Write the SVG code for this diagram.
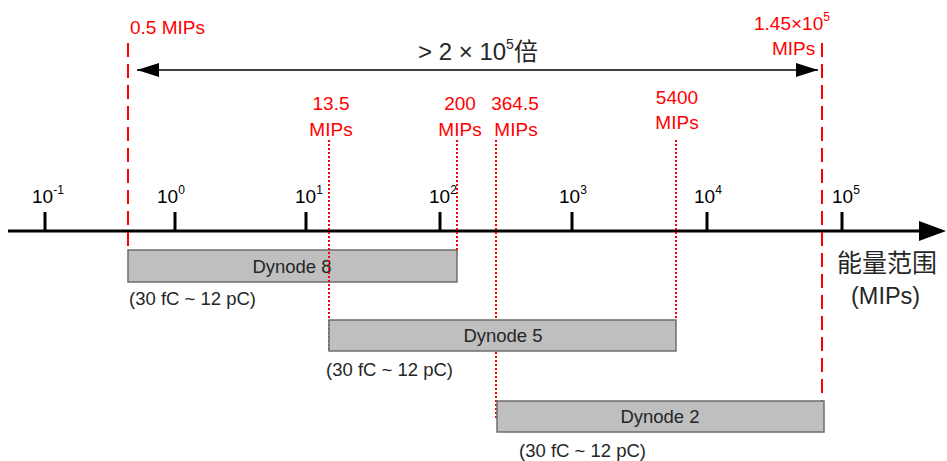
<svg xmlns="http://www.w3.org/2000/svg" width="947" height="461" viewBox="0 0 947 461">
<defs>
<style>
.t{font-family:"Liberation Sans","Noto Sans CJK SC",sans-serif;}
.red{fill:#ff0000;font-size:19px;}
.tick{fill:#000;font-size:19px;}
.sup{font-size:12px;}
.lbl{fill:#262626;font-size:18.5px;}
.box{fill:#bfbfbf;stroke:#6e6e6e;stroke-width:1.5;}
.dash{stroke:#ff0000;stroke-width:2;stroke-dasharray:14 7;fill:none;}
.dot{stroke:#ff0000;stroke-width:2;stroke-dasharray:2 2;fill:none;}
</style>
<marker id="ah" viewBox="0 0 22 14" refX="22" refY="7" markerWidth="22" markerHeight="14" markerUnits="userSpaceOnUse" orient="auto-start-reverse">
<path d="M0,0 L22,7 L0,14 Z" fill="#000"/>
</marker>
</defs>
<rect width="947" height="461" fill="#fff"/>

<g id="axis">
<line x1="8" y1="231" x2="922" y2="231" stroke="#000" stroke-width="3"/>
<path d="M919,221 L946,231 L919,241 Z" fill="#000"/>
<g stroke="#000" stroke-width="3">
<line x1="45" y1="212" x2="45" y2="231"/>
<line x1="175" y1="212" x2="175" y2="231"/>
<line x1="306" y1="212" x2="306" y2="231"/>
<line x1="440" y1="212" x2="440" y2="231"/>
<line x1="572" y1="212" x2="572" y2="231"/>
<line x1="707" y1="212" x2="707" y2="231"/>
<line x1="842" y1="212" x2="842" y2="231"/>
</g>
<text class="t tick" x="32" y="203">10<tspan class="sup" dy="-9">-1</tspan></text>
<text class="t tick" x="157" y="203">10<tspan class="sup" dy="-9">0</tspan></text>
<text class="t tick" x="295" y="203">10<tspan class="sup" dy="-9">1</tspan></text>
<text class="t tick" x="429" y="203">10<tspan class="sup" dy="-9">2</tspan></text>
<text class="t tick" x="559" y="203">10<tspan class="sup" dy="-9">3</tspan></text>
<text class="t tick" x="694" y="203">10<tspan class="sup" dy="-9">4</tspan></text>
<text class="t tick" x="832" y="203">10<tspan class="sup" dy="-9">5</tspan></text>
<text class="t" x="837" y="272" font-size="25" fill="#262626">能量范围</text>
<text class="t" x="851" y="304" font-size="23.5" fill="#262626">(MIPs)</text>
</g>

<g id="dynode8">
<rect class="box" x="128" y="250" width="329" height="32"/>
<text class="t lbl" x="292" y="273" text-anchor="middle" font-size="19">Dynode 8</text>
<text class="t lbl" x="129" y="305">(30 fC ~ 12 pC)</text>
</g>

<g id="connectors">
<line class="dash" x1="128" y1="43" x2="128" y2="250"/>
<line class="dash" x1="822" y1="43" x2="822" y2="401"/>
<line class="dot" x1="329" y1="140" x2="329" y2="351"/>
<line class="dot" x1="457" y1="140" x2="457" y2="250"/>
<line class="dot" x1="496" y1="140" x2="496" y2="418"/>
<line class="dot" x1="676" y1="140" x2="676" y2="320"/>
<line x1="137" y1="70" x2="818" y2="70" stroke="#000" stroke-width="1.5" marker-start="url(#ah)" marker-end="url(#ah)"/>
</g>

<g id="dynode5">
<rect class="box" x="329" y="320" width="347" height="31"/>
<text class="t lbl" x="503" y="342" text-anchor="middle" font-size="19">Dynode 5</text>
<text class="t lbl" x="326" y="376">(30 fC ~ 12 pC)</text>
</g>

<g id="dynode2">
<rect class="box" x="497" y="401" width="327" height="31"/>
<text class="t lbl" x="660" y="423" text-anchor="middle" font-size="19">Dynode 2</text>
<text class="t lbl" x="519" y="457">(30 fC ~ 12 pC)</text>
</g>

<g id="labels">
<text class="t red" x="130" y="34">0.5 MIPs</text>
<text class="t red" x="331" y="110" text-anchor="middle">13.5</text>
<text class="t red" x="331" y="136" text-anchor="middle">MIPs</text>
<text class="t red" x="460" y="110" text-anchor="middle">200</text>
<text class="t red" x="460" y="136" text-anchor="middle">MIPs</text>
<text class="t red" x="515" y="110" text-anchor="middle">364.5</text>
<text class="t red" x="516" y="136" text-anchor="middle">MIPs</text>
<text class="t red" x="677" y="104" text-anchor="middle">5400</text>
<text class="t red" x="677" y="129" text-anchor="middle">MIPs</text>
<text class="t red" x="754" y="30" font-size="18">1.45×10<tspan class="sup" dy="-9">5</tspan></text>
<text class="t red" x="772" y="55">MIPs</text>
<text class="t" x="418" y="60" font-size="24" fill="#262626">&gt; 2 × 10<tspan font-size="14" dy="-11">5</tspan><tspan dy="11">倍</tspan></text>
</g>
</svg>
